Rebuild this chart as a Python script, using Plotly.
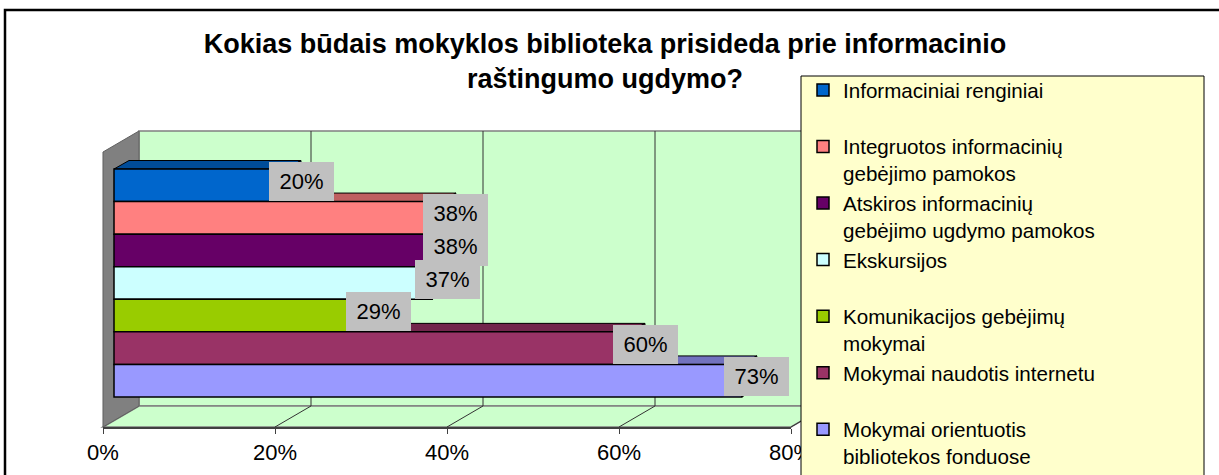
import plotly.graph_objects as go

# ---------------- data ----------------
series_names = [
    "Informaciniai renginiai<br> ",
    "Integruotos informacinių<br>gebėjimo pamokos",
    "Atskiros informacinių<br>gebėjimo ugdymo pamokos",
    "Ekskursijos<br> ",
    "Komunikacijos gebėjimų<br>mokymai",
    "Mokymai naudotis internetu<br> ",
    "Mokymai orientuotis<br>bibliotekos fonduose",
]
values = [0.20, 0.38, 0.38, 0.37, 0.29, 0.60, 0.73]
value_labels = ["20%", "38%", "38%", "37%", "29%", "60%", "73%"]
tick_values = [0, 0.2, 0.4, 0.6, 0.8]
tick_labels = ["0%", "20%", "40%", "60%", "80%"]
front_colors = ["#0066CC", "#FF8080", "#660066", "#CCFFFF", "#99CC00", "#993366", "#9999FF"]
title_text = "Kokias būdais mokyklos biblioteka prisideda prie informacinio<br>raštingumo ugdymo?"

# ---------------- geometry / style ----------------
W, H = 1219, 475
FONT = "Liberation Sans, Arial, sans-serif"
X0_PX, PX_PER_UNIT = 114, 860.0        # bar plane: value 0 at x=114
PLOT_L, PLOT_R = 100, 830
BAR_TOP_PX, BAR_H_PX = 169, 228 / 7.0
PLOT_T, PLOT_B = 125, 427
DX_PX, DY_PX = 15, 8.5                 # 3D depth of bars
FRONT_OFF, BACK_OFF = -11, 25          # floor front / back wall offsets from bar plane
WALL_TOP_F, WALL_TOP_B = 152, 131
FLOOR_F, FLOOR_B = 427, 406
AX_MAX = tick_values[-1]


def px(x):
    return x / W


def py(y):
    return 1 - y / H


def shade(hexcol, f):
    h = hexcol.lstrip("#")
    r, g, b = (int(h[i:i + 2], 16) for i in (0, 2, 4))
    return "#%02X%02X%02X" % (int(r * f), int(g * f), int(b * f))


x_range = [(PLOT_L - X0_PX) / PX_PER_UNIT, (PLOT_R - X0_PX) / PX_PER_UNIT]
y_range = [(PLOT_B - BAR_TOP_PX) / BAR_H_PX - 0.5, (PLOT_T - BAR_TOP_PX) / BAR_H_PX - 0.5]
dxu = DX_PX / PX_PER_UNIT
dyu = DY_PX / BAR_H_PX

fig = go.Figure()
for i, (name, v, col) in enumerate(zip(series_names, values, front_colors)):
    fig.add_trace(go.Bar(
        x=[v], y=[i], orientation="h", width=[1], name=name,
        marker=dict(color=col, line=dict(color="black", width=1.5)),
        hoverinfo="skip",
    ))
# carrier for the front (floor) percentage axis
fig.add_trace(go.Scatter(x=[tick_values[0]], y=[len(values)], xaxis="x2", yaxis="y",
                         mode="markers", marker=dict(opacity=0), showlegend=False,
                         hoverinfo="skip"))

shapes = []
# outer chart border
shapes.append(dict(type="rect", xref="paper", yref="paper", x0=px(5), x1=px(1260),
                   y0=py(10), y1=py(520), line=dict(color="black", width=2.5), layer="below"))
back_right = X0_PX + AX_MAX * PX_PER_UNIT + BACK_OFF
front_right = X0_PX + AX_MAX * PX_PER_UNIT + FRONT_OFF
front_left = X0_PX + FRONT_OFF
back_left = X0_PX + BACK_OFF
# back wall
shapes.append(dict(type="rect", xref="paper", yref="paper", x0=px(back_left), x1=px(back_right),
                   y0=py(FLOOR_B), y1=py(WALL_TOP_B), fillcolor="#CCFFCC",
                   line=dict(color="#808080", width=1.5), layer="below"))
# floor
shapes.append(dict(type="path", xref="paper", yref="paper",
                   path="M %f,%f L %f,%f L %f,%f L %f,%f Z" % (
                       px(front_left), py(FLOOR_F), px(back_left), py(FLOOR_B),
                       px(back_right), py(FLOOR_B), px(front_right), py(FLOOR_F)),
                   fillcolor="#CCFFCC", line=dict(color="#808080", width=1.5), layer="below"))
# side wall
shapes.append(dict(type="path", xref="paper", yref="paper",
                   path="M %f,%f L %f,%f L %f,%f L %f,%f Z" % (
                       px(front_left), py(WALL_TOP_F), px(back_left), py(WALL_TOP_B),
                       px(back_left), py(FLOOR_B), px(front_left), py(FLOOR_F)),
                   fillcolor="#808080", line=dict(color="#606060", width=1), layer="below"))
# gridlines on back wall and floor
for t in tick_values[1:]:
    shapes.append(dict(type="line", xref="x", yref="paper", xsizemode="pixel", xanchor=t,
                       x0=BACK_OFF, x1=BACK_OFF, y0=py(FLOOR_B), y1=py(WALL_TOP_B),
                       line=dict(color="#333333", width=1), layer="below"))
    shapes.append(dict(type="line", xref="x", yref="paper", xsizemode="pixel", xanchor=t,
                       x0=FRONT_OFF, x1=BACK_OFF, y0=py(FLOOR_F), y1=py(FLOOR_B),
                       line=dict(color="#333333", width=1), layer="below"))
# bar top faces
for i, (v, col) in enumerate(zip(values, front_colors)):
    yt = i - 0.5
    shapes.append(dict(type="path", xref="x", yref="y",
                       path="M 0,%f L %f,%f L %f,%f L %f,%f Z" % (
                           yt, v, yt, v + dxu, yt - dyu, dxu, yt - dyu),
                       fillcolor=shade(col, 0.75), line=dict(color="black", width=1), layer="below"))
# bar side faces
for i, (v, col) in enumerate(zip(values, front_colors)):
    yt, yb = i - 0.5, i + 0.5
    shapes.append(dict(type="path", xref="x", yref="y",
                       path="M %f,%f L %f,%f L %f,%f L %f,%f Z" % (
                           v, yt, v + dxu, yt - dyu, v + dxu, yb - dyu, v, yb),
                       fillcolor=shade(col, 0.6), line=dict(color="black", width=1), layer="below"))
# legend box
shapes.append(dict(type="rect", xref="paper", yref="paper", x0=px(801), x1=px(1204),
                   y0=py(76), y1=py(520), fillcolor="#FFFFCC",
                   line=dict(color="#000000", width=1), layer="above"))

annotations = []
for i, (v, lab) in enumerate(zip(values, value_labels)):
    annotations.append(dict(x=v, y=i, xref="x", yref="y", text=lab, showarrow=False,
                            xanchor="center", yanchor="middle", xshift=15, yshift=4,
                            bgcolor="#C0C0C0", width=65, height=39, borderpad=0, borderwidth=0,
                            font=dict(family=FONT, size=22, color="black")))

fig.update_layout(
    width=W, height=H,
    margin=dict(l=0, r=0, t=0, b=0, autoexpand=False),
    paper_bgcolor="white", plot_bgcolor="rgba(0,0,0,0)",
    barmode="overlay",
    title=dict(text=title_text, x=px(605), xanchor="center", y=py(53), yanchor="top",
               font=dict(family=FONT, size=27, color="black", weight="bold")),
    xaxis=dict(domain=[px(PLOT_L), px(PLOT_R)], range=x_range, visible=False, fixedrange=True),
    xaxis2=dict(domain=[px(front_left), px(front_right)], range=[0, AX_MAX], anchor="y",
                side="bottom", tickvals=tick_values, ticktext=tick_labels, ticks="outside",
                ticklen=5, tickcolor="#404040", showline=True, linecolor="#404040",
                linewidth=1.5, showgrid=False, zeroline=False, fixedrange=True,
                tickfont=dict(family=FONT, size=22, color="black")),
    yaxis=dict(domain=[py(PLOT_B), py(PLOT_T)], range=y_range, visible=False, fixedrange=True),
    legend=dict(x=px(803), y=py(70), xanchor="left", yanchor="top", bgcolor="rgba(0,0,0,0)",
                borderwidth=0, traceorder="normal", valign="top", itemwidth=30,
                maxheight=2000,
                font=dict(family=FONT, size=20.6, color="black"), tracegroupgap=0),
    shapes=shapes,
    annotations=annotations,
    showlegend=True,
)

fig.write_html("out.html", config={"displayModeBar": False},
               post_script="document.body.style.margin='0';")
